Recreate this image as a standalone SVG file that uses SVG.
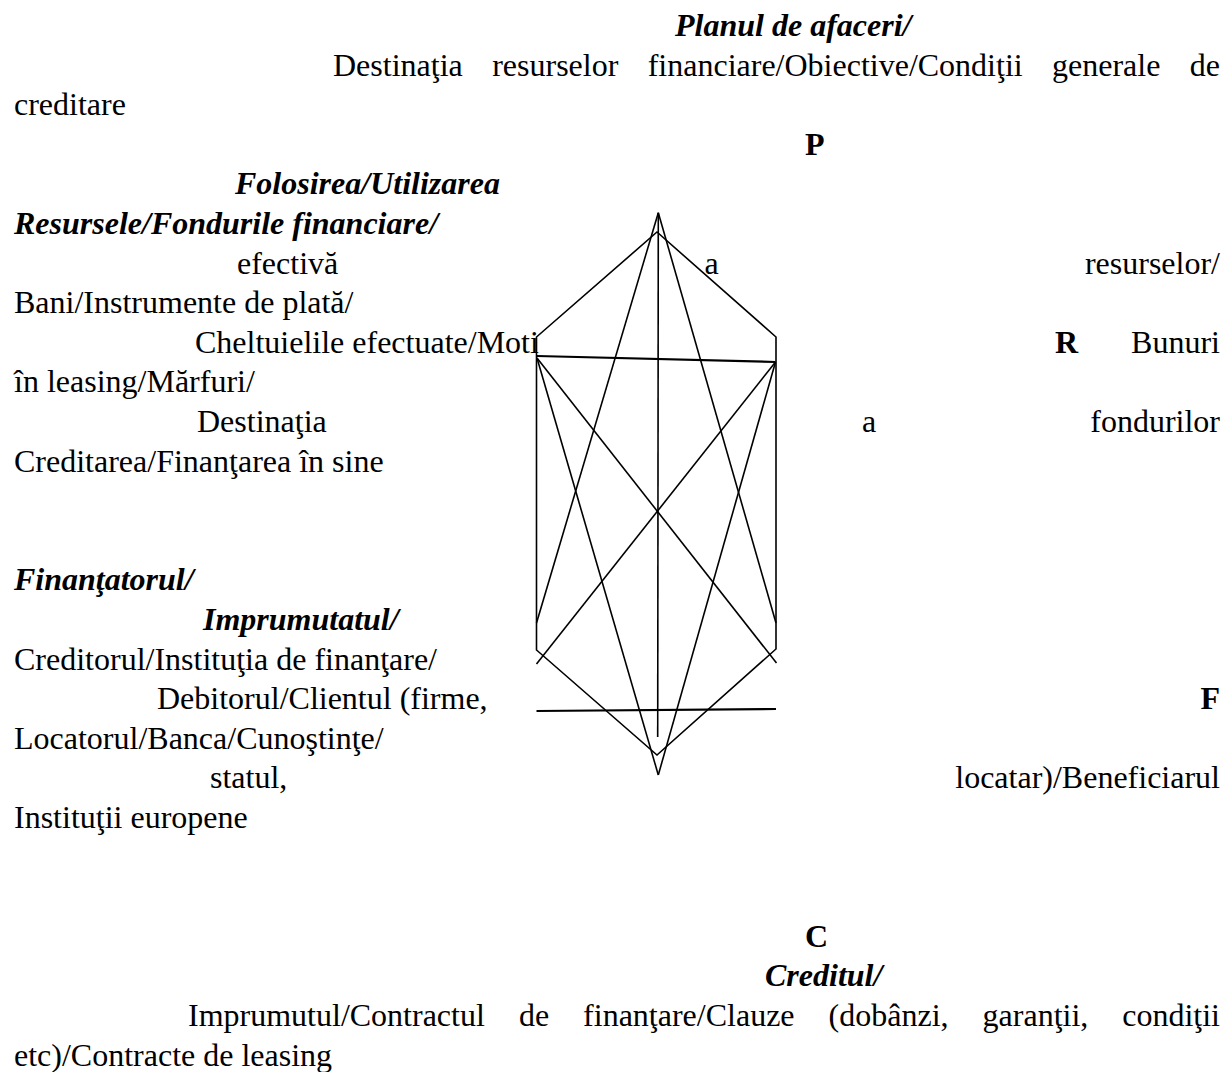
<svg xmlns="http://www.w3.org/2000/svg" width="1231" height="1072" viewBox="0 0 1231 1072">
<style>
text{font-family:"Liberation Serif","Times New Roman",serif;font-size:32px;fill:#000}
.bi{font-weight:bold;font-style:italic}
.b{font-weight:bold}
.e{text-anchor:end}
.ln{stroke:#000;stroke-width:1.6;fill:none;stroke-linecap:butt}
.lt{stroke:#000;stroke-width:2.2;fill:none}
</style>
<rect width="1231" height="1072" fill="#fff"/>
<g id="connectors">
<polygon class="ln" points="657,232 776,337 776,649 657,755 536.5,650 536.5,337"/>
<line class="ln" x1="658.3" y1="212.7" x2="536.5" y2="623"/>
<line class="ln" x1="658.3" y1="212.7" x2="776" y2="623"/>
<line class="ln" x1="658.3" y1="212.7" x2="657.7" y2="737"/>
<line class="lt" x1="537" y1="356" x2="775.5" y2="362"/>
<line class="ln" x1="537" y1="358" x2="658.3" y2="775"/>
<line class="ln" x1="775.5" y1="362" x2="658.3" y2="775"/>
<line class="ln" x1="537" y1="358" x2="776.5" y2="663"/>
<line class="ln" x1="775.5" y1="362" x2="536.5" y2="664"/>
<line class="lt" x1="536.5" y1="711" x2="776" y2="709"/>
</g>
<g id="node-P">
<text class="bi" x="675" y="36">Planul de afaceri/</text>
<text x="333" y="75.6">Destinaţia</text>
<text x="492.2" y="75.6">resurselor</text>
<text x="647.7" y="75.6">financiare/Obiective/Condiţii</text>
<text x="1052" y="75.6">generale</text>
<text class="e" x="1220" y="75.6">de</text>
<text x="14" y="115.2">creditare</text>
<text class="b" x="805" y="154.8">P</text>
</g>
<g id="node-R">
<text class="bi" x="235" y="194.4">Folosirea/Utilizarea</text>
<text class="bi" x="14" y="234">Resursele/Fondurile financiare/</text>
<text x="237" y="273.6">efectivă</text>
<text x="704.6" y="273.6">a</text>
<text class="e" x="1220" y="273.6">resurselor/</text>
<text x="14" y="313.2">Bani/Instrumente de plată/</text>
<text x="195" y="352.8">Cheltuielile efectuate/Moti</text>
<text class="b" x="1055" y="352.8">R</text>
<text class="e" x="1220" y="352.8">Bunuri</text>
<text x="14" y="392.4">în leasing/Mărfuri/</text>
<text x="197" y="432">Destinaţia</text>
<text x="862" y="432">a</text>
<text class="e" x="1220" y="432">fondurilor</text>
<text x="14" y="471.6">Creditarea/Finanţarea în sine</text>
</g>
<g id="node-F">
<text class="bi" x="14" y="590.4">Finanţatorul/</text>
<text class="bi" x="203" y="630">Imprumutatul/</text>
<text x="14" y="669.6">Creditorul/Instituţia de finanţare/</text>
<text x="157" y="709.2">Debitorul/Clientul (firme,</text>
<text class="b e" x="1220" y="709.2">F</text>
<text x="14" y="748.8">Locatorul/Banca/Cunoştinţe/</text>
<text x="210" y="788.4">statul,</text>
<text class="e" x="1220" y="788.4">locatar)/Beneficiarul</text>
<text x="14" y="828">Instituţii europene</text>
</g>
<g id="node-C">
<text class="b" x="805" y="946.8">C</text>
<text class="bi" x="765" y="986.4">Creditul/</text>
<text x="188" y="1026">Imprumutul/Contractul</text>
<text x="518.9" y="1026">de</text>
<text x="583.1" y="1026">finanţare/Clauze</text>
<text x="828.6" y="1026">(dobânzi,</text>
<text x="982.6" y="1026">garanţii,</text>
<text class="e" x="1220" y="1026">condiţii</text>
<text x="14" y="1065.6">etc)/Contracte de leasing</text>
</g>
</svg>
